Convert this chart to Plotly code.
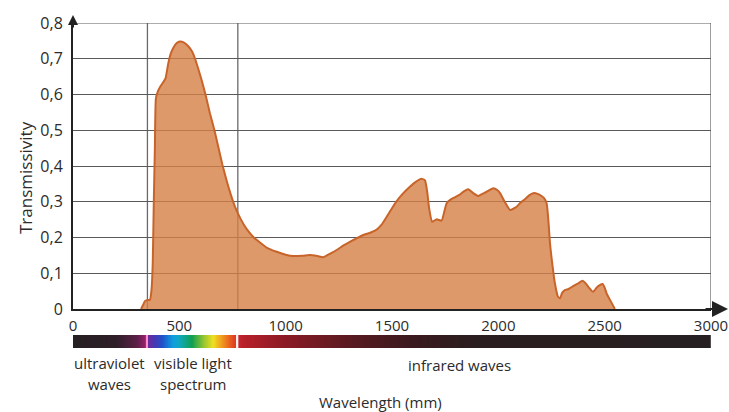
import numpy as np
import plotly.graph_objects as go

# ---- data ----
wavelength_nm = [320, 330, 338, 350, 362, 370, 375, 380, 385, 390, 400, 410, 425, 435, 448, 460, 472, 488,
                 503, 520, 542, 560, 574, 590, 605, 625, 644, 665, 683, 702, 722, 742, 762, 790, 816, 850,
                 879, 910, 958, 1000, 1036, 1080, 1114, 1150, 1177, 1210, 1240, 1270, 1302, 1335, 1365,
                 1400, 1428, 1450, 1475, 1500, 1522, 1550, 1584, 1610, 1639, 1655, 1665, 1675, 1689, 1710,
                 1733, 1745, 1757, 1775, 1790, 1819, 1840, 1859, 1880, 1906, 1925, 1945, 1976, 1995, 2008,
                 2030, 2055, 2086, 2105, 2125, 2145, 2164, 2185, 2203, 2215, 2227, 2235, 2243, 2255, 2266,
                 2280, 2290, 2300, 2313, 2330, 2352, 2376, 2396, 2410, 2423, 2446, 2460, 2470, 2490, 2500,
                 2509, 2530, 2548]
transmissivity = [0.0, 0.012, 0.022, 0.025, 0.026, 0.06, 0.13, 0.30, 0.45, 0.59, 0.61, 0.622, 0.635, 0.645,
                  0.687, 0.715, 0.731, 0.744, 0.748, 0.746, 0.735, 0.72, 0.70, 0.67, 0.64, 0.595, 0.547,
                  0.50, 0.454, 0.405, 0.36, 0.32, 0.286, 0.25, 0.224, 0.20, 0.186, 0.172, 0.16, 0.152,
                  0.148, 0.149, 0.151, 0.148, 0.145, 0.155, 0.165, 0.177, 0.188, 0.198, 0.207, 0.214,
                  0.222, 0.235, 0.258, 0.282, 0.302, 0.322, 0.342, 0.355, 0.364, 0.36, 0.33, 0.28, 0.244,
                  0.251, 0.247, 0.27, 0.296, 0.306, 0.311, 0.320, 0.33, 0.335, 0.325, 0.316, 0.322, 0.328,
                  0.338, 0.333, 0.324, 0.30, 0.277, 0.286, 0.298, 0.307, 0.318, 0.324, 0.322, 0.316, 0.31,
                  0.296, 0.25, 0.184, 0.12, 0.072, 0.035, 0.03, 0.045, 0.053, 0.056, 0.064, 0.072, 0.079,
                  0.072, 0.062, 0.048, 0.058, 0.064, 0.070, 0.06, 0.044, 0.02, 0.0]

x_ticks = [0, 500, 1000, 1500, 2000, 2500, 3000]
x_tick_labels = ["0", "500", "1000", "1500", "2000", "2500", "3000"]
y_ticks = [0, 0.1, 0.2, 0.3, 0.4, 0.5, 0.6, 0.7, 0.8]
y_tick_labels = ["0", "0,1", "0,2", "0,3", "0,4", "0,5", "0,6", "0,7", "0,8"]

region_bounds_nm = [350, 775]  # UV/visible and visible/IR boundaries

# spectrum bar colour stops (nm, colour)
spectrum_nm = [0, 200, 300, 340, 343, 345, 352, 355, 380, 420, 470, 500, 560, 620, 660, 700, 740, 762,
               766, 768, 776, 779, 800, 1000, 1300, 1600, 1900, 3000]
spectrum_colors = ["#262022", "#2e1e28", "#5a1f46", "#94206c", "#b03080", "#ff8ccc", "#ff8ccc", "#6a2c9c",
                   "#4a36b0", "#2050c8", "#109ee0", "#10a8c0", "#10a050", "#a0c830", "#f0e020", "#f09a20",
                   "#e85a20", "#e03c22", "#e03c22", "#f8eeee", "#f8eeee", "#c8242c", "#b8202a", "#8a1a25",
                   "#5a1a20", "#3a1a1e", "#2a1e20", "#262022"]

font_family = "Open Sans, Noto Sans, sans-serif"
text_color = "#2b2b2b"

# layout geometry (pixels of the 729x412 canvas)
M_L, M_R, M_T, M_B = 73, 18, 23, 0
PLOT_H = 412 - M_T - M_B
PLOT_W = 729 - M_L - M_R


def py(p):  # canvas y pixel -> paper fraction
    return (412 - M_B - p) / PLOT_H


def px(p):  # canvas x pixel -> paper fraction
    return (p - M_L) / PLOT_W


fig = go.Figure()

# spectrum bar (heatmap on its own axes)
bar_x = np.arange(0, 3001, 2)
colorscale = [[n / 3000.0, c] for n, c in zip(spectrum_nm, spectrum_colors)]
fig.add_trace(go.Heatmap(x=bar_x, y=[0], z=[bar_x], colorscale=colorscale, zmin=0, zmax=3000,
                         showscale=False, hoverinfo="skip", xaxis="x2", yaxis="y2"))

# transmissivity curve
fig.add_trace(go.Scatter(x=wavelength_nm, y=transmissivity, mode="lines", fill="tozeroy",
                         line=dict(color="#c8642a", width=2, shape="spline", smoothing=0.5),
                         fillcolor="rgba(214,128,70,0.80)", showlegend=False, hoverinfo="skip"))

shapes = []
for b in region_bounds_nm + [3000]:
    shapes.append(dict(type="line", xref="x", yref="y", x0=b, x1=b, y0=0, y1=0.8,
                       line=dict(color="#6a6a6a", width=1.3), layer="below"))
shapes.append(dict(type="line", xref="x", yref="y", x0=0, x1=3000, y0=0.8, y1=0.8,
                   line=dict(color="#5a5a5a", width=1.2), layer="below"))


def label(x, y, text, **kw):
    d = dict(xref="paper", yref="paper", x=x, y=y, text=text, showarrow=False,
             xanchor="center", yanchor="middle",
             font=dict(family=font_family, size=15, color=text_color))
    d.update(kw)
    return d


annotations = [
    # axis arrows
    dict(xref="paper", yref="y", x=px(728), y=0, ax=-24, ay=0, text="", showarrow=True,
         arrowhead=2, arrowsize=1.6, arrowwidth=2, arrowcolor="#222222"),
    dict(xref="paper", yref="paper", x=0, y=py(15), ax=0, ay=14, text="", showarrow=True,
         arrowhead=2, arrowsize=1.0, arrowwidth=2, arrowcolor="#222222"),
    label(px(109.5), py(363), "ultraviolet"),
    label(px(109.5), py(384), "waves"),
    label(px(193), py(363), "visible light"),
    label(px(193), py(384), "spectrum"),
    label(px(459), py(365), "infrared waves"),
    label(px(380), py(402), "Wavelength (mm)"),
    label(px(25), py(178), "Transmissivity", textangle=-90,
          font=dict(family=font_family, size=17, color=text_color)),
]

fig.update_layout(
    width=729, height=412,
    margin=dict(l=M_L, r=M_R, t=M_T, b=M_B, autoexpand=False),
    paper_bgcolor="white", plot_bgcolor="white",
    showlegend=False,
    font=dict(family=font_family, size=15, color=text_color),
    xaxis=dict(domain=[0, 1], range=[0, 3000], tickvals=x_ticks, ticktext=x_tick_labels,
               showgrid=False, zeroline=False, showline=True, linecolor="#222222", linewidth=2,
               ticks="", ticklabelstandoff=2, anchor="y", automargin=False,
               tickfont=dict(family=font_family, size=15, color=text_color)),
    yaxis=dict(domain=[py(309), py(23)], range=[0, 0.8], tickvals=y_ticks, ticktext=y_tick_labels,
               showgrid=True, gridcolor="#5a5a5a", gridwidth=1.2, zeroline=False,
               showline=True, linecolor="#222222", linewidth=2, ticks="",
               ticklabelstandoff=5, anchor="x", automargin=False,
               tickfont=dict(family=font_family, size=16, color=text_color)),
    xaxis2=dict(domain=[0, 1], range=[0, 3000], visible=False, anchor="y2", automargin=False),
    yaxis2=dict(domain=[py(348), py(335)], visible=False, anchor="x2", automargin=False),
    shapes=shapes,
    annotations=annotations,
)

fig.write_html("out.html")
